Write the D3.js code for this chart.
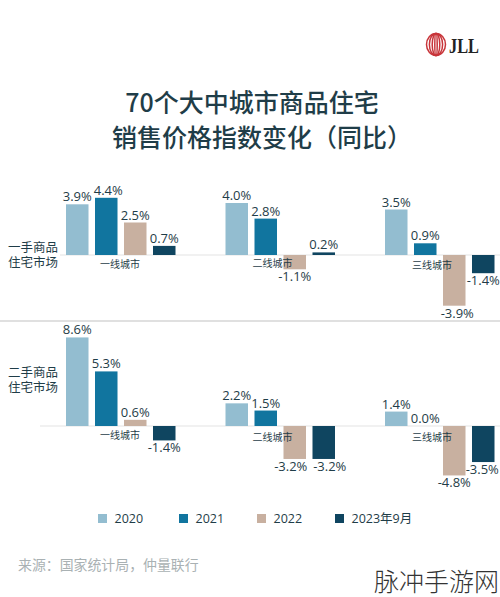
<!DOCTYPE html>
<html>
<head>
<meta charset="utf-8">
<script src="https://cdn.jsdelivr.net/npm/d3@7"></script>
<style>
  html, body { margin: 0; padding: 0; background: #fff; }
  svg { display: block; }
  text { font-family: "Noto Sans CJK SC", "Noto Sans", sans-serif; }
</style>
</head>
<body>
<svg id="chart" width="500" height="597"></svg>
<script>
var cities = ['一线城市', '二线城市', '三线城市'];
var seriesNames = ['2020', '2021', '2022', '2023年9月'];
var seriesColors = ['#93bdd0', '#11759f', '#c8b0a0', '#0f4560'];

// values per city, one list for each series
var newHome2020 = [3.9, 4.0, 3.5];
var newHome2021 = [4.4, 2.8, 0.9];
var newHome2022 = [2.5, -1.1, -3.9];
var newHome2023 = [0.7, 0.2, -1.4];

var usedHome2020 = [8.6, 2.2, 1.4];
var usedHome2021 = [5.3, 1.5, 0.0];
var usedHome2022 = [0.6, -3.2, -4.8];
var usedHome2023 = [-1.4, -3.2, -3.5];

var titleLines = ['70个大中城市商品住宅', '销售价格指数变化（同比）'];
var sourceText = '来源：国家统计局，仲量联行';
var watermark = '脉冲手游网';

var textDark = '#1f3d48';
var svg = d3.select('#chart');

var x0 = d3.scaleBand().domain(cities).range([66, 544.5]);
var x1 = d3.scaleBand().domain(seriesNames).range([0, 109.5]).paddingInner(0.224);

/*
 * Logo
 */
var logo = svg.append('g').attr('transform', 'translate(436,44.5)');
[9.5, 6.6, 3.8, 1.2].forEach(function(rx) {
  logo.append('ellipse')
    .attr('rx', rx)
    .attr('ry', 11)
    .attr('fill', 'none')
    .attr('stroke', '#c8353a')
    .attr('stroke-width', 1.5);
});
svg.append('text')
  .attr('x', 449)
  .attr('y', 53)
  .attr('font-size', 20)
  .attr('font-weight', 700)
  .attr('fill', '#222')
  .style('font-family', '"Liberation Serif", serif')
  .attr('textLength', 30)
  .attr('lengthAdjust', 'spacingAndGlyphs')
  .text('JLL');

/*
 * Title
 */
svg.selectAll('.title')
  .data(titleLines)
  .enter()
  .append('text')
  .attr('class', 'title')
  .attr('x', function(d, i) { return i === 0 ? 252 : 262; })
  .attr('y', function(d, i) { return 112 + i * 35; })
  .attr('text-anchor', 'middle')
  .attr('font-size', 25)
  .attr('font-weight', 500)
  .attr('fill', textDark)
  .text(function(d) { return d; });

/*
 * One panel of grouped bars
 */
function drawPanel(opts) {
  var y = d3.scaleLinear().domain(opts.domain).range(opts.range);
  var g = svg.append('g');

  g.append('line')
    .attr('x1', opts.lineFrom)
    .attr('x2', 500)
    .attr('y1', y(0))
    .attr('y2', y(0))
    .attr('stroke', '#ececec')
    .attr('stroke-width', 1.5);

  opts.rows.forEach(function(values, s) {
    var name = seriesNames[s];
    values.forEach(function(v, c) {
      var x = x0(cities[c]) + x1(name);
      // a few labels sit off-centre in the original
      var nudge = opts.nudge[s + '-' + c] || 0;
      g.append('rect')
        .attr('x', x)
        .attr('y', Math.min(y(v), y(0)))
        .attr('width', x1.bandwidth())
        .attr('height', Math.abs(y(v) - y(0)))
        .attr('fill', seriesColors[s]);
      g.append('text')
        .attr('x', x + x1.bandwidth() / 2 + nudge)
        .attr('y', v < 0 ? y(v) + 12 : y(v) - 3)
        .attr('text-anchor', 'middle')
        .attr('font-size', 13)
        .attr('fill', textDark)
        .style('font-family', '"Open Sans", sans-serif')
        .text(v.toFixed(1) + '%');
    });
  });

  cities.forEach(function(city, c) {
    g.append('text')
      .attr('x', x0(city) + (c === 0 ? 54 : 47))
      .attr('y', y(0) + opts.cityOffset[c])
      .attr('text-anchor', 'middle')
      .attr('font-size', 10)
      .attr('fill', textDark)
      .text(city);
  });

  var label = g.append('text')
    .attr('text-anchor', 'end')
    .attr('font-size', 12.5)
    .attr('fill', textDark);
  opts.label.forEach(function(line, i) {
    label.append('tspan')
      .attr('x', 58)
      .attr('y', opts.labelY + i * 15)
      .text(line);
  });
}

drawPanel({
  rows: [newHome2020, newHome2021, newHome2022, newHome2023],
  domain: [-5, 5],
  range: [320, 190],
  lineFrom: 60,
  cityOffset: [13, 12, 14],
  nudge: { '1-0': 2, '2-2': 3 },
  label: ['一手商品', '住宅市场'],
  labelY: 252
});

drawPanel({
  rows: [usedHome2020, usedHome2021, usedHome2022, usedHome2023],
  domain: [-5, 9],
  range: [477.5, 333.3],
  lineFrom: 40,
  cityOffset: [13, 15, 15],
  nudge: { '2-1': -4, '3-1': 6, '3-2': -1 },
  label: ['二手商品', '住宅市场'],
  labelY: 377
});

// divider between the two panels
svg.append('line')
  .attr('x1', 0)
  .attr('x2', 500)
  .attr('y1', 321)
  .attr('y2', 321)
  .attr('stroke', '#d6d6d6')
  .attr('stroke-width', 1.5);

/*
 * Legend
 */
var legendSwatch = [98, 179, 257, 335];
var legend = svg.selectAll('.legend')
  .data(seriesNames)
  .enter()
  .append('g')
  .attr('class', 'legend')
  .attr('transform', function(d, i) { return 'translate(' + legendSwatch[i] + ',514)'; });

legend.append('rect')
  .attr('width', 9)
  .attr('height', 9)
  .attr('fill', function(d, i) { return seriesColors[i]; });

legend.append('text')
  .attr('x', 16.5)
  .attr('y', 9)
  .attr('font-size', 12.5)
  .attr('fill', textDark)
  .style('font-family', '"Open Sans", "Noto Sans CJK SC", sans-serif')
  .text(function(d) { return d; });

/*
 * Source and watermark
 */
svg.append('text')
  .attr('x', 18)
  .attr('y', 570)
  .attr('font-size', 13.9)
  .attr('fill', '#a9b1b3')
  .text(sourceText);

svg.append('text')
  .attr('x', 374)
  .attr('y', 591)
  .attr('font-size', 25)
  .attr('font-weight', 300)
  .attr('fill', '#333')
  .text(watermark);
</script>
</body>
</html>
